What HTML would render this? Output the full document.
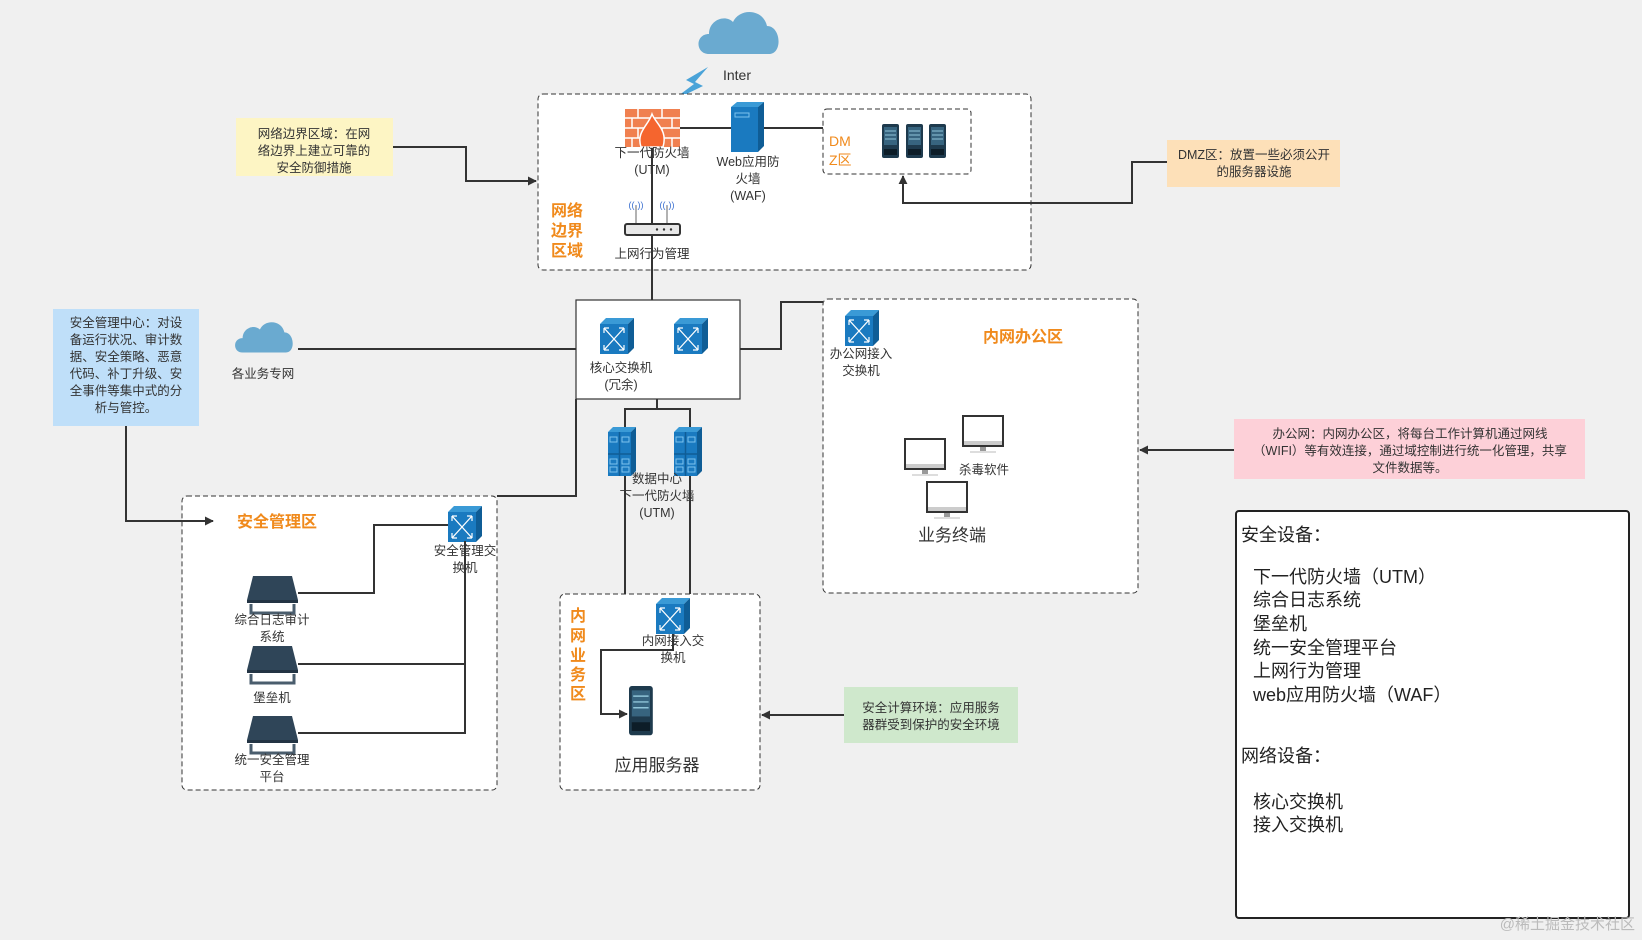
<!DOCTYPE html>
<html><head><meta charset="utf-8"><style>
html,body{margin:0;padding:0;background:#f0f0f0;}
svg{display:block;}
text{font-family:"Liberation Sans","Noto Sans CJK SC",sans-serif;fill:#333;}
.s{font-size:12.5px;text-anchor:middle;}
.o{fill:#f08a1c;font-weight:bold;font-size:16px;text-anchor:middle;}
.lg{font-size:18px;fill:#222;}
</style></head><body>
<svg width="1642" height="940" viewBox="0 0 1642 940" xmlns="http://www.w3.org/2000/svg">
<defs>
<marker id="ar" viewBox="0 0 10 10" refX="9" refY="5" markerWidth="9" markerHeight="9" orient="auto-start-reverse" markerUnits="userSpaceOnUse"><path d="M0,0 L10,5 L0,10 Z" fill="#333"/></marker>
<g id="sw">
<path d="M0,6 L6,0 L34,0 L28,6 Z" fill="#3a9ad6"/>
<path d="M28,6 L34,0 L34,30 L28,36 Z" fill="#0f5d96"/>
<rect x="0" y="6" width="28" height="30" fill="#1a7ac0"/>
<path d="M4,10 L24,32 M24,10 L4,32" stroke="#fff" stroke-width="1.3" fill="none"/>
<path d="M4,10 l5,0 M4,10 l0,5 M24,10 l-5,0 M24,10 l0,5 M4,32 l5,0 M4,32 l0,-5 M24,32 l-5,0 M24,32 l0,-5" stroke="#fff" stroke-width="1.2"/>
</g>
<g id="fw">
<path d="M0,5 L5,0 L28,0 L23,5 Z" fill="#3a9ad6"/>
<path d="M23,5 L28,0 L28,44 L23,49 Z" fill="#0f5d96"/>
<rect x="0" y="5" width="23" height="44" fill="#1a7ac0"/>
<path d="M11.5,5 V49 M0,27 H23" stroke="#0f5d96" stroke-width="1.5"/>
<rect x="2" y="10" width="7" height="5" fill="none" stroke="#7cc3ee"/><rect x="14" y="10" width="7" height="5" fill="none" stroke="#7cc3ee"/>
<rect x="2" y="32" width="7" height="5" fill="none" stroke="#7cc3ee"/><rect x="14" y="32" width="7" height="5" fill="none" stroke="#7cc3ee"/>
<rect x="2" y="40" width="7" height="5" fill="none" stroke="#7cc3ee"/><rect x="14" y="40" width="7" height="5" fill="none" stroke="#7cc3ee"/>
</g>
<g id="dev">
<path d="M6,0 H45 L51,24 H0 Z" fill="#2f4558"/>
<rect x="0" y="24" width="51" height="3" fill="#233444"/>
<path d="M4,28 V37 H47 V28" fill="none" stroke="#4a5d6d" stroke-width="3"/>
</g>
<g id="mon">
<rect x="0" y="0" width="40" height="30" fill="#fff" stroke="#333" stroke-width="2"/>
<rect x="1" y="25" width="38" height="4" fill="#ccc"/>
<rect x="17" y="31" width="6" height="4" fill="#999"/>
<rect x="7" y="35" width="26" height="2" fill="#ddd"/>
</g>
<g id="srv">
<rect x="0" y="0" width="17" height="34" rx="2" fill="#1e3a4d"/>
<rect x="2" y="3" width="13" height="18" fill="#37647f"/>
<path d="M3,7 H14 M3,11 H14 M3,15 H14" stroke="#8fc4d8" stroke-width="1"/>
<rect x="2" y="25" width="13" height="6" fill="#0d1d28"/>
</g>
<g id="cloud"><path d="M12,48 C-2,48 -2,28 12,28 C12,14 28,8 36,16 C42,2 66,2 70,20 C84,20 86,48 72,48 Z" fill="#6aaad0"/></g>
</defs>

<!-- Internet cloud -->
<use href="#cloud" x="697" y="6"/>
<text x="737" y="80" font-size="14" text-anchor="middle" fill="#333">Inter</text>
<path d="M708,67 L686,80 L694,84 L670,102 L703,86 L695,82 Z" fill="#4aa3d8"/>

<!-- Border zone -->
<rect x="538" y="94" width="493" height="176" rx="5" fill="#fff" stroke="#333" stroke-dasharray="5,3"/>
<text class="o" x="567" y="216">网络</text><text class="o" x="567" y="236">边界</text><text class="o" x="567" y="256">区域</text>
<line x1="680" y1="128" x2="731" y2="128" stroke="#333" stroke-width="2"/>
<line x1="764" y1="128" x2="823" y2="128" stroke="#333" stroke-width="2"/>
<line x1="652" y1="147" x2="652" y2="300" stroke="#333" stroke-width="2"/>
<!-- firewall -->
<g>
<rect x="625" y="109" width="55" height="38" fill="#f08050"/>
<path d="M625,118 H680 M625,128 H680 M625,138 H680 M638,109 V118 M662,109 V118 M650,118 V128 M672,118 V128 M632,118 V128 M638,128 V138 M662,128 V138 M650,138 V147 M632,138 V147 M672,138 V147" stroke="#fff" stroke-width="1.5"/>
<path d="M641,147 C636,132 648,126 652,114 C656,124 668,130 663,147 Z" fill="#f5652e" stroke="#fff" stroke-width="1.5"/>
</g>
<text class="s" x="652" y="157">下一代防火墙</text>
<text class="s" x="652" y="174">(UTM)</text>
<!-- web server -->
<path d="M731,107 L737,102 L764,102 L758,107 Z" fill="#3a9ad6"/>
<path d="M758,107 L764,102 L764,146 L758,152 Z" fill="#0f5d96"/>
<rect x="731" y="107" width="27" height="45" fill="#1a7ac0"/>
<rect x="735" y="113" width="14" height="4" fill="none" stroke="#7cc3ee"/>
<text class="s" x="748" y="166">Web应用防</text>
<text class="s" x="748" y="183">火墙</text>
<text class="s" x="748" y="200">(WAF)</text>
<!-- DMZ -->
<rect x="823" y="109" width="148" height="65" rx="4" fill="#fff" stroke="#333" stroke-dasharray="5,3"/>
<text x="829" y="146" font-size="14" style="fill:#f08a1c">DM</text>
<text x="829" y="165" font-size="14" style="fill:#f08a1c">Z区</text>
<use href="#srv" x="882" y="124"/><use href="#srv" x="906" y="124"/><use href="#srv" x="929" y="124"/>
<!-- router -->
<path d="M636,224 V205 M667,224 V205" stroke="#666"/>
<text x="636" y="208" font-size="9" text-anchor="middle" style="fill:#3a6fd0">((·))</text>
<text x="667" y="208" font-size="9" text-anchor="middle" style="fill:#3a6fd0">((·))</text>
<rect x="625" y="224" width="55" height="11" rx="2" fill="#e8e8e8" stroke="#333" stroke-width="2"/>
<circle cx="657" cy="229.5" r="1.2" fill="#333"/><circle cx="664" cy="229.5" r="1.2" fill="#333"/><circle cx="671" cy="229.5" r="1.2" fill="#333"/>
<text class="s" x="652" y="258">上网行为管理</text>

<!-- notes top -->
<rect x="236" y="118" width="157" height="58" fill="#fdf5c4"/>
<text class="s" x="314" y="138">网络边界区域：在网</text>
<text class="s" x="314" y="155">络边界上建立可靠的</text>
<text class="s" x="314" y="172">安全防御措施</text>
<polyline points="393,147 466,147 466,181 536,181" fill="none" stroke="#333" stroke-width="2" marker-end="url(#ar)"/>

<rect x="1167" y="140" width="173" height="47" fill="#fde0b8"/>
<text class="s" x="1254" y="159">DMZ区：放置一些必须公开</text>
<text class="s" x="1254" y="176">的服务器设施</text>
<polyline points="1167,162 1132,162 1132,203 903,203 903,176" fill="none" stroke="#333" stroke-width="2" marker-end="url(#ar)"/>

<!-- core switch -->
<rect x="576" y="300" width="164" height="99" fill="#fff" stroke="#333" stroke-width="1.2"/>
<use href="#sw" x="600" y="318"/><use href="#sw" x="674" y="318"/>
<text class="s" x="621" y="372">核心交换机</text>
<text class="s" x="621" y="389">(冗余)</text>
<g transform="translate(234,318) scale(0.72)"><use href="#cloud"/></g>
<text class="s" x="263" y="378">各业务专网</text>
<line x1="298" y1="349" x2="576" y2="349" stroke="#333" stroke-width="2"/>
<polyline points="740,349 781,349 781,302 823,302" fill="none" stroke="#333" stroke-width="2"/>
<polyline points="576,399 576,496 497,496" fill="none" stroke="#333" stroke-width="2"/>
<polyline points="657,399 657,409" fill="none" stroke="#333" stroke-width="2"/>
<polyline points="625,427 625,409 690,409 690,427" fill="none" stroke="#333" stroke-width="2"/>
<!-- DC firewalls -->
<use href="#fw" x="608" y="427"/><use href="#fw" x="674" y="427"/>
<line x1="625" y1="476" x2="625" y2="594" stroke="#333" stroke-width="2"/>
<line x1="690" y1="476" x2="690" y2="594" stroke="#333" stroke-width="2"/>
<text class="s" x="657" y="483">数据中心</text>
<text class="s" x="657" y="500">下一代防火墙</text>
<text class="s" x="657" y="517">(UTM)</text>

<!-- office zone -->
<rect x="823" y="299" width="315" height="294" rx="5" fill="#fff" stroke="#333" stroke-dasharray="5,3"/>
<use href="#sw" x="845" y="310"/>
<text class="s" x="861" y="358">办公网接入</text>
<text class="s" x="861" y="375">交换机</text>
<text class="o" x="1023" y="342">内网办公区</text>
<use href="#mon" x="905" y="439"/><use href="#mon" x="963" y="416"/><use href="#mon" x="927" y="482"/>
<text class="s" x="984" y="474">杀毒软件</text>
<text x="952" y="541" font-size="17" text-anchor="middle">业务终端</text>
<rect x="1234" y="419" width="351" height="60" fill="#fdd0d8"/>
<text class="s" x="1410" y="438">办公网：内网办公区，将每台工作计算机通过网线</text>
<text class="s" x="1410" y="455">（WIFI）等有效连接，通过域控制进行统一化管理，共享</text>
<text class="s" x="1410" y="472">文件数据等。</text>
<line x1="1234" y1="450" x2="1140" y2="450" stroke="#333" stroke-width="2" marker-end="url(#ar)"/>

<!-- biz zone -->
<rect x="560" y="594" width="200" height="196" rx="5" fill="#fff" stroke="#333" stroke-dasharray="5,3"/>
<text class="o" x="578" y="621">内</text><text class="o" x="578" y="641">网</text><text class="o" x="578" y="661">业</text><text class="o" x="578" y="680">务</text><text class="o" x="578" y="699">区</text>
<polyline points="673,630 673,650 601,650 601,714 627,714" fill="none" stroke="#333" stroke-width="2" marker-end="url(#ar)"/>
<use href="#sw" x="656" y="598"/>
<text class="s" x="673" y="645">内网接入交</text>
<text class="s" x="673" y="662">换机</text>
<g transform="translate(629,686) scale(1.4,1.45)"><use href="#srv"/></g>
<text x="657" y="771" font-size="17" text-anchor="middle">应用服务器</text>
<rect x="844" y="687" width="174" height="56" fill="#cfe8cc"/>
<text class="s" x="931" y="712">安全计算环境：应用服务</text>
<text class="s" x="931" y="729">器群受到保护的安全环境</text>
<line x1="844" y1="715" x2="762" y2="715" stroke="#333" stroke-width="2" marker-end="url(#ar)"/>

<!-- security mgmt -->
<rect x="53" y="309" width="146" height="117" fill="#bfdff9"/>
<text class="s" x="126" y="327">安全管理中心：对设</text>
<text class="s" x="126" y="344">备运行状况、审计数</text>
<text class="s" x="126" y="361">据、安全策略、恶意</text>
<text class="s" x="126" y="378">代码、补丁升级、安</text>
<text class="s" x="126" y="395">全事件等集中式的分</text>
<text class="s" x="126" y="412">析与管控。</text>
<rect x="182" y="496" width="315" height="294" rx="5" fill="#fff" stroke="#333" stroke-dasharray="5,3"/>
<polyline points="126,426 126,521 213,521" fill="none" stroke="#333" stroke-width="2" marker-end="url(#ar)"/>
<text class="o" x="277" y="527">安全管理区</text>
<use href="#sw" x="448" y="506"/>
<text class="s" x="465" y="555">安全管理交</text>
<text class="s" x="465" y="572">换机</text>
<polyline points="298,593 374,593 374,525 448,525" fill="none" stroke="#333" stroke-width="2"/>
<polyline points="465,541 465,733 298,733" fill="none" stroke="#333" stroke-width="2"/>
<line x1="298" y1="664" x2="465" y2="664" stroke="#333" stroke-width="2"/>
<use href="#dev" x="247" y="576"/><use href="#dev" x="247" y="646"/><use href="#dev" x="247" y="716"/>
<text class="s" x="272" y="624">综合日志审计</text>
<text class="s" x="272" y="641">系统</text>
<text class="s" x="272" y="702">堡垒机</text>
<text class="s" x="272" y="764">统一安全管理</text>
<text class="s" x="272" y="781">平台</text>

<!-- legend -->
<rect x="1236" y="511" width="393" height="407" rx="3" fill="#fff" stroke="#222" stroke-width="2"/>
<text class="lg" x="1241" y="541">安全设备：</text>
<text class="lg" x="1253" y="583">下一代防火墙（UTM）</text>
<text class="lg" x="1253" y="606">综合日志系统</text>
<text class="lg" x="1253" y="630">堡垒机</text>
<text class="lg" x="1253" y="654">统一安全管理平台</text>
<text class="lg" x="1253" y="677">上网行为管理</text>
<text class="lg" x="1253" y="701">web应用防火墙（WAF）</text>
<text class="lg" x="1241" y="762">网络设备：</text>
<text class="lg" x="1253" y="808">核心交换机</text>
<text class="lg" x="1253" y="831">接入交换机</text>
<text x="1635" y="929" font-size="15" text-anchor="end" style="fill:#bbb">@稀土掘金技术社区</text>
</svg>
</body></html>
